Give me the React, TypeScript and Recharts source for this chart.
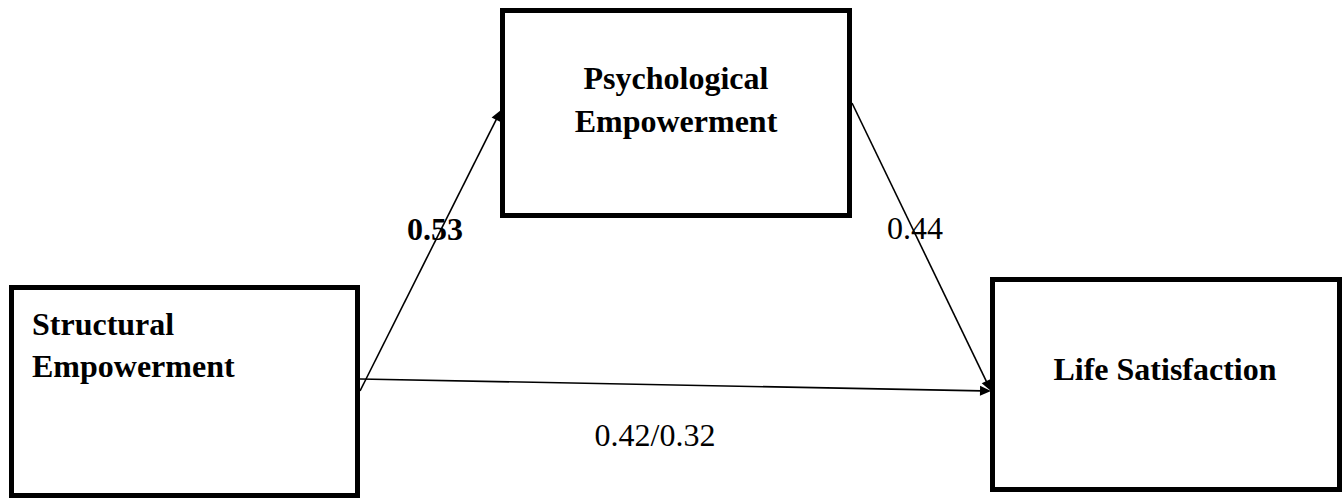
import React from "react";
import {
  ScatterChart,
  Scatter,
  XAxis,
  YAxis,
  ReferenceArea,
  ReferenceLine,
} from "recharts";

// Diagram coordinate space (x: 0..1342, y: 0..500, y grows downward)
const nodeNames = ["Structural Empowerment", "Psychological Empowerment", "Life Satisfaction"];
const nodeBoxes = [
  { name: "Structural Empowerment", x1: 11.5, x2: 357.5, y1: 287.5, y2: 495.5 },
  { name: "Psychological Empowerment", x1: 502.5, x2: 849.5, y1: 10.5, y2: 215.5 },
  { name: "Life Satisfaction", x1: 992.5, x2: 1339.5, y1: 279.5, y2: 489.5 },
];

// Left-aligned node text lines
const leftNodeLines = [
  { x: 32, y: 335, text: "Structural" },
  { x: 32, y: 377, text: "Empowerment" },
];
// Centered node text lines
const centerNodeLines = [
  { x: 676, y: 89, text: "Psychological" },
  { x: 676, y: 132, text: "Empowerment" },
  { x: 1165, y: 380, text: "Life Satisfaction" },
];

// Paths (from -> to) with coefficients
const paths = [
  { from: "Structural Empowerment", to: "Psychological Empowerment", sx: 360, sy: 391, ex: 501, ey: 110 },
  { from: "Psychological Empowerment", to: "Life Satisfaction", sx: 852, sy: 103, ex: 991, ey: 391 },
  { from: "Structural Empowerment", to: "Life Satisfaction", sx: 360, sy: 379, ex: 991, ey: 391 },
];

const boldCoefficients = [{ x: 435, y: 240, text: "0.53" }];
const plainCoefficients = [
  { x: 915, y: 239, text: "0.44" },
  { x: 655, y: 446, text: "0.42/0.32" },
];

const FONT = "'Liberation Serif', 'Times New Roman', Times, serif";

const ArrowShape = (props: any) => {
  const { x1, y1, x2, y2 } = props;
  const dx = x2 - x1;
  const dy = y2 - y1;
  const len = Math.sqrt(dx * dx + dy * dy) || 1;
  const ux = dx / len;
  const uy = dy / len;
  const hl = 11;
  const hw = 5;
  const bx = x2 - ux * hl;
  const by = y2 - uy * hl;
  const pts = `${x2},${y2} ${bx - uy * hw},${by + ux * hw} ${bx + uy * hw},${by - ux * hw}`;
  return (
    <g>
      <line x1={x1} y1={y1} x2={bx + ux * 2} y2={by + uy * 2} stroke="#000" strokeWidth={1.6} />
      <polygon points={pts} fill="#000" />
    </g>
  );
};

const makeText = (anchor: string, weight: string) => (props: any) => {
  const { cx, cy, payload } = props;
  return (
    <text
      x={cx}
      y={cy}
      textAnchor={anchor}
      fontFamily={FONT}
      fontSize={32}
      fontWeight={weight}
      fill="#000"
    >
      {payload.text}
    </text>
  );
};

export default function App() {
  return (
    <div style={{ position: "absolute", left: 0, top: 0, width: 1342, height: 500, background: "#fff" }}>
      <ScatterChart width={1342} height={500} margin={{ top: 0, right: 0, bottom: 0, left: 0 }}>
        <XAxis type="number" dataKey="x" domain={[0, 1342]} hide allowDataOverflow />
        <YAxis type="number" dataKey="y" domain={[0, 500]} reversed hide allowDataOverflow />
        {nodeBoxes.map((b, i) => (
          <ReferenceArea
            key={nodeNames[i]}
            x1={b.x1}
            x2={b.x2}
            y1={b.y1}
            y2={b.y2}
            fill="#fff"
            fillOpacity={1}
            stroke="#000"
            strokeWidth={5}
            ifOverflow="visible"
          />
        ))}
        {paths.map((p) => (
          <ReferenceLine
            key={p.from + p.to}
            segment={[
              { x: p.sx, y: p.sy },
              { x: p.ex, y: p.ey },
            ]}
            stroke="#000"
            ifOverflow="visible"
            shape={ArrowShape}
          />
        ))}
        <Scatter data={leftNodeLines} isAnimationActive={false} shape={makeText("start", "bold")} />
        <Scatter data={centerNodeLines} isAnimationActive={false} shape={makeText("middle", "bold")} />
        <Scatter data={boldCoefficients} isAnimationActive={false} shape={makeText("middle", "bold")} />
        <Scatter data={plainCoefficients} isAnimationActive={false} shape={makeText("middle", "normal")} />
      </ScatterChart>
    </div>
  );
}
